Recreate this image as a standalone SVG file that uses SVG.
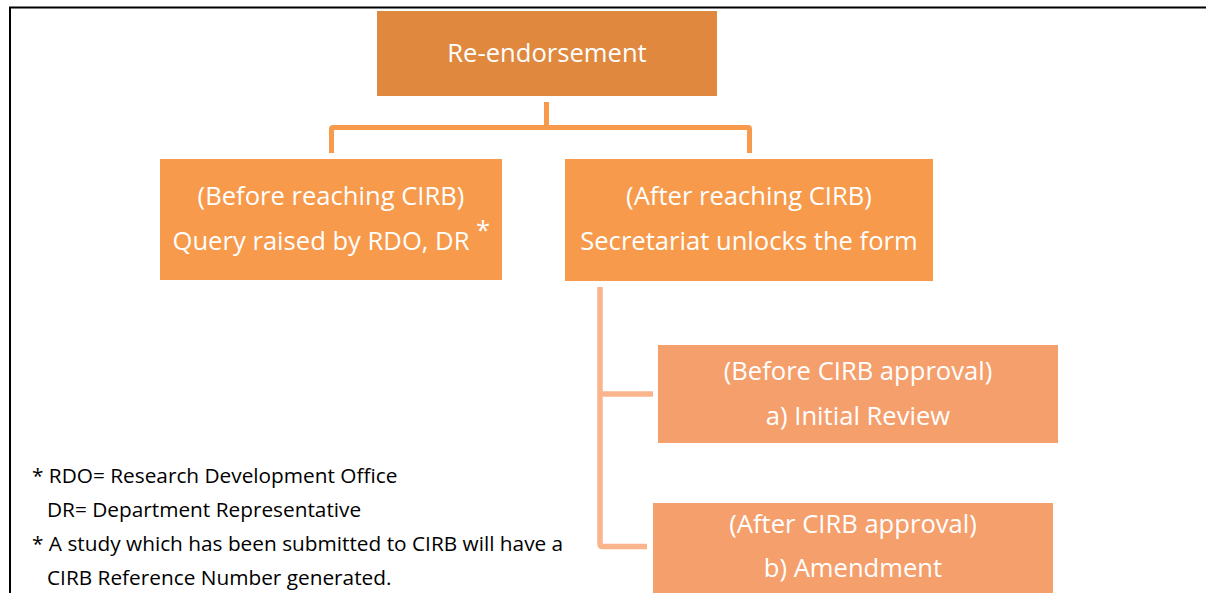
<svg xmlns="http://www.w3.org/2000/svg" width="1206" height="593" viewBox="0 0 1206 593">
  <style>
    .frame { stroke: #000; stroke-width: 2; fill: none; }
    .lvl1 { fill: #E0883E; }
    .lvl2 { fill: #F79A4C; }
    .lvl3 { fill: #F59F6D; }
    .node-text { font-family: "Open Sans", "Liberation Sans", sans-serif; fill: #fff; text-anchor: middle; font-size: 25.6px; }
    .link1 { stroke: #F79A4C; stroke-width: 5; fill: none; stroke-linejoin: round; }
    .link2 { stroke: #FBB58D; stroke-width: 5.5; fill: none; stroke-linejoin: round; }
    .note { font-family: "Open Sans", "Liberation Sans", sans-serif; font-size: 20.8px; fill: #000; }
  </style>

  <rect width="1206" height="593" fill="#fff"/>

  <!-- page frame -->
  <path class="frame" d="M10,593 V7.5 H1206"/>

  <!-- connectors -->
  <g id="connectors">
    <path class="link1" d="M546.5,102 V127.5"/>
    <path class="link1" d="M331.5,153 V129 Q331.5,127.5 333,127.5 H748 Q749.5,127.5 749.5,129 V153"/>
    <path class="link2" d="M600,287 V544 Q600,546.5 602.5,546.5 H647"/>
    <path class="link2" d="M600,394 H653"/>
  </g>

  <g id="node-reendorsement">
    <rect class="lvl1" x="377" y="11" width="340" height="85"/>
    <text class="node-text" x="547" y="62">Re-endorsement</text>
  </g>

  <g id="node-before-cirb">
    <rect class="lvl2" x="160" y="159" width="342" height="121"/>
    <text class="node-text" x="331" y="205">(Before reaching CIRB)</text>
    <text class="node-text" x="321" y="250">Query raised by RDO, DR</text>
    <text class="node-text" x="483" y="239" font-size="14">*</text>
  </g>

  <g id="node-after-cirb">
    <rect class="lvl2" x="565" y="159" width="368" height="122"/>
    <text class="node-text" x="749" y="205">(After reaching CIRB)</text>
    <text class="node-text" x="749" y="250">Secretariat unlocks the form</text>
  </g>

  <g id="node-initial-review">
    <rect class="lvl3" x="658" y="345" width="400" height="98"/>
    <text class="node-text" x="858" y="380">(Before CIRB approval)</text>
    <text class="node-text" x="858" y="425">a) Initial Review</text>
  </g>

  <g id="node-amendment">
    <rect class="lvl3" x="653" y="503" width="400" height="95"/>
    <text class="node-text" x="853" y="533">(After CIRB approval)</text>
    <text class="node-text" x="853" y="577">b) Amendment</text>
  </g>

  <!-- footnotes -->
  <g id="footnotes">
    <text class="note" x="32" y="483">* RDO= Research Development Office</text>
    <text class="note" x="47" y="517">DR= Department Representative</text>
    <text class="note" x="32" y="551">* A study which has been submitted to CIRB will have a</text>
    <text class="note" x="47" y="585">CIRB Reference Number generated.</text>
  </g>
</svg>
